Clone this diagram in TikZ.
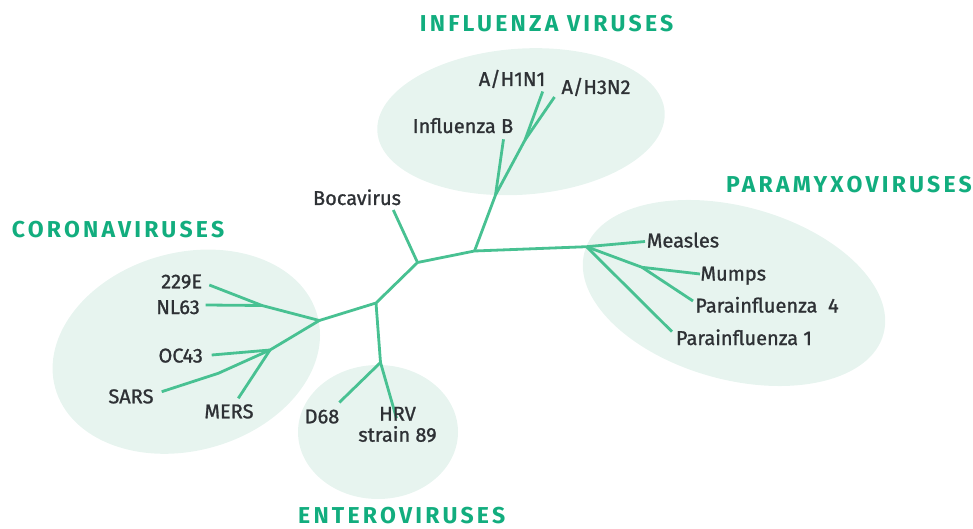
\documentclass[tikz,border=0pt]{standalone}
\usepackage{fontspec}
\setmainfont{Fira Sans}
\newfontfamily\leaffont{Fira Sans}[FakeBold=1.1]
\newfontfamily\headfont{Fira Sans}[LetterSpace=14]
\usetikzlibrary{positioning}

\definecolor{branchgreen}{HTML}{48C192}
\definecolor{headgreen}{HTML}{12AD7E}
\definecolor{blobfill}{HTML}{E7F4EF}
\definecolor{labelgray}{HTML}{2E3135}

\begin{document}
\begin{tikzpicture}[
    x=1pt, y=-1pt,
    blob/.style={fill=blobfill},
    branch/.style={draw=branchgreen, line width=2.8pt, line join=round},
    leaf/.style={font=\leaffont\fontsize{20}{24}\selectfont, text=labelgray,
        anchor=base, inner sep=0pt, align=center},
    family/.style={font=\headfont\bfseries\fontsize{23}{26}\selectfont,
        text=headgreen, anchor=base, inner sep=0pt}
]
\useasboundingbox (0,0) rectangle (973,529);

% Group bubbles
\coordinate (corocentre) at (186.3,351.7);
\coordinate (flucentre) at (521,121.7);
\coordinate (paracentre) at (734,293);
\coordinate (enterocentre) at (378,432);
\fill[blob, rotate around={15.5:(corocentre)}] (corocentre)
    ellipse [x radius=136, y radius=99];
\fill[blob, rotate around={4:(flucentre)}] (flucentre)
    ellipse [x radius=144, y radius=73];
\fill[blob, rotate around={-15.4:(paracentre)}] (paracentre)
    ellipse [x radius=155, y radius=86.5];
\fill[blob] (enterocentre) ellipse [x radius=80, y radius=67];

% Inner junctions of the tree
\coordinate (hub) at (376,303);
\coordinate (bocajoin) at (417.5,262.5);
\coordinate (fluroot) at (474.5,251);
\coordinate (parajoin) at (586.5,246.7);
\coordinate (flubjoin) at (495.5,195);
\coordinate (flujoin) at (525,140);
\coordinate (corojoin) at (319.3,320.5);
\coordinate (nljoin) at (262,305.5);
\coordinate (ocjoin) at (270,350);
\coordinate (sarsbend) at (218.3,373.3);
\coordinate (enterojoin) at (380.5,362.5);
\coordinate (mumpsjoin) at (642,267.3);

% Branch tips
\coordinate (t229e) at (209.3,285);
\coordinate (tnl63) at (205.7,305);
\coordinate (toc43) at (211.7,355);
\coordinate (tsars) at (161.7,391.7);
\coordinate (tmers) at (238.3,398.3);
\coordinate (td68) at (339.3,402.5);
\coordinate (thrv) at (396.5,418.3);
\coordinate (tboca) at (393.3,210);
\coordinate (tflub) at (503.5,139.3);
\coordinate (th1n1) at (542.7,91.5);
\coordinate (th3n2) at (554.5,97);
\coordinate (tmeasles) at (645,241.5);
\coordinate (tmumps) at (700,274);
\coordinate (tpi4) at (693,301);
\coordinate (tpi1) at (672,331.7);

% Backbone and branches
\draw[branch] (t229e) -- (nljoin) -- (corojoin) -- (hub) -- (bocajoin)
    -- (fluroot) -- (parajoin) -- (tmeasles);
\draw[branch] (tnl63) -- (nljoin);
\draw[branch] (corojoin) -- (ocjoin) -- (toc43);
\draw[branch] (ocjoin) -- (sarsbend) -- (tsars);
\draw[branch] (ocjoin) -- (tmers);
\draw[branch] (hub) -- (enterojoin) -- (td68);
\draw[branch] (enterojoin) -- (thrv);
\draw[branch] (bocajoin) -- (tboca);
\draw[branch] (fluroot) -- (flubjoin) -- (flujoin) -- (th1n1);
\draw[branch] (flujoin) -- (th3n2);
\draw[branch] (flubjoin) -- (tflub);
\draw[branch] (parajoin) -- (mumpsjoin) -- (tmumps);
\draw[branch] (mumpsjoin) -- (tpi4);
\draw[branch] (parajoin) -- (tpi1);

% Virus names
\node[leaf] (l229e) at (181.7,288.3) {229E};
\node[leaf] (lnl63) at (178,314) {NL63};
\node[leaf] (loc43) at (180.7,362.5) {OC43};
\node[leaf] (lsars) at (131,403.3) {SARS};
\node[leaf] (lmers) at (229,418.3) {MERS};
\node[leaf] (ld68) at (322,423.3) {D68};
\node[leaf] (lhrv) at (397.5,441.7) {HRV\\[-3pt]strain 89};
\node[leaf] (lboca) at (357,205) {Bocavirus};
\node[leaf] (lflub) at (463,133) {Influenza B};
\node[leaf] (lh1n1) at (512,86) {A/H1N1};
\node[leaf] (lh3n2) at (596,94) {A/H3N2};
\node[leaf] (lmeasles) at (683,247.5) {Measles};
\node[leaf] (lmumps) at (733.3,280.5) {Mumps};
\node[leaf] (lpi4) at (767,312.5) {Parainfluenza~~4};
\node[leaf] (lpi1) at (744,345) {Parainfluenza 1};

% Family headings
\node[family] (hflu) at (546.6,32) {INFLUENZA VIRUSES};
\node[family] (hcoro) at (118,237) {CORONAVIRUSES};
\node[family] (hpara) at (849,192.7) {PARAMYXOVIRUSES};
\node[family] (hentero) at (401.7,523.5) {ENTEROVIRUSES};
\end{tikzpicture}
\end{document}
